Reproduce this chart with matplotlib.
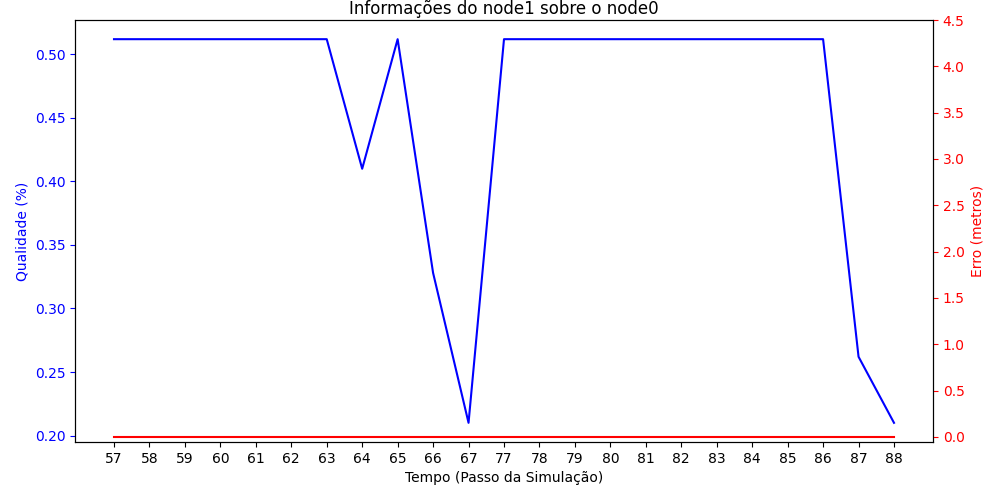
import matplotlib
matplotlib.use("Agg")
import matplotlib.pyplot as plt
import numpy as np

passos = [57, 58, 59, 60, 61, 62, 63, 64, 65, 66, 67,
          77, 78, 79, 80, 81, 82, 83, 84, 85, 86, 87, 88]
qualidade = [0.512, 0.512, 0.512, 0.512, 0.512, 0.512, 0.512, 0.410, 0.512, 0.328, 0.210,
             0.512, 0.512, 0.512, 0.512, 0.512, 0.512, 0.512, 0.512, 0.512, 0.512, 0.262, 0.210]
erro = [0.0] * len(passos)

fig, ax1 = plt.subplots(figsize=(10, 5), dpi=100)
fig.subplots_adjust(left=0.075, right=0.933, top=0.96, bottom=0.116)

x = np.arange(len(passos))
ax1.plot(x, qualidade, color='blue', linewidth=1.5)
ax1.set_xticks(x)
ax1.set_xticklabels([str(p) for p in passos])
ax1.set_xlabel('Tempo (Passo da Simulação)')
ax1.set_ylabel('Qualidade (%)', color='blue')
ax1.tick_params(axis='y', colors='blue')

ax2 = ax1.twinx()
ax2.plot(x, erro, color='red', linewidth=1.5)
ax2.set_ylim(top=4.5)
ax2.set_yticks(np.arange(0, 4.51, 0.5))
ax2.set_ylabel('Erro (metros)', color='red')
ax2.tick_params(axis='y', colors='red')

plt.title('Informações do node1 sobre o node0', pad=4.5)
plt.savefig('out.png')
